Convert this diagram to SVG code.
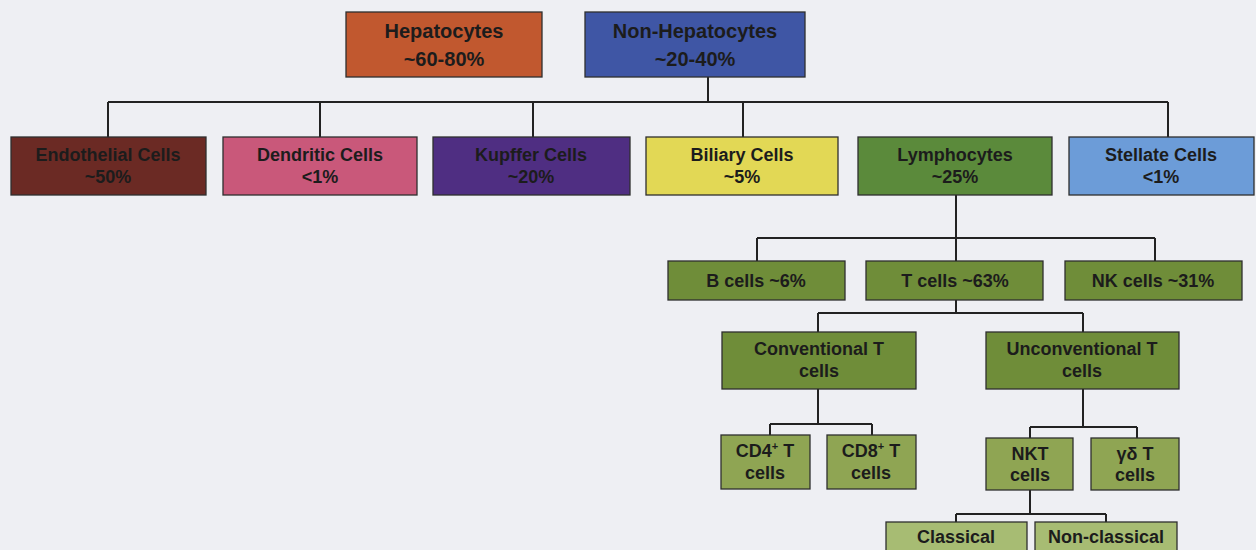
<svg xmlns="http://www.w3.org/2000/svg" width="1256" height="550" viewBox="0 0 1256 550">
<style>
.b{stroke:#2e2e2e;stroke-width:1.3}
.t{font-family:"Liberation Sans",Arial,sans-serif;font-weight:bold;font-size:18px;fill:#1c1c1c;text-anchor:middle}
.tl{font-size:20px}
#connectors path{fill:none;stroke:#222;stroke-width:2}
</style>
<rect width="1256" height="550" fill="#eeeff3"/>
<g id="connectors">
<path d="M708 77V102M108 102H1168M108 102V137M320 102V137M533 102V137M743 102V137M1168 102V137"/>
<path d="M956 195V261M757 238H1155M757 238V261M1155 238V261"/>
<path d="M956 300V313M818 313H1083M818 313V332M1083 313V332"/>
<path d="M818 389V424M770 424H872M770 424V435M872 424V435"/>
<path d="M1083 389V427M1030 427H1137M1030 427V438M1137 427V438"/>
<path d="M1030 490V514M956 514H1106M956 514V522M1106 514V522"/>
</g>
<g id="hepatocytes"><rect class="b" x="346" y="12" width="196" height="65" fill="#c1582f"/><text class="t tl" x="444" y="38">Hepatocytes</text><text class="t tl" x="444" y="66">~60-80%</text></g>
<g id="non-hepatocytes"><rect class="b" x="585" y="12" width="220" height="65" fill="#3f56a5"/><text class="t tl" x="695" y="38">Non-Hepatocytes</text><text class="t tl" x="695" y="66">~20-40%</text></g>
<g id="endothelial"><rect class="b" x="11" y="137" width="195" height="58" fill="#6b2a24"/><text class="t" x="108" y="161">Endothelial Cells</text><text class="t" x="108" y="183">~50%</text></g>
<g id="dendritic"><rect class="b" x="223" y="137" width="194" height="58" fill="#c9587a"/><text class="t" x="320" y="161">Dendritic Cells</text><text class="t" x="320" y="183">&lt;1%</text></g>
<g id="kupffer"><rect class="b" x="433" y="137" width="197" height="58" fill="#4f2e82"/><text class="t" x="531" y="161">Kupffer Cells</text><text class="t" x="531" y="183">~20%</text></g>
<g id="biliary"><rect class="b" x="646" y="137" width="192" height="58" fill="#e2d855"/><text class="t" x="742" y="161">Biliary Cells</text><text class="t" x="742" y="183">~5%</text></g>
<g id="lymphocytes"><rect class="b" x="858" y="137" width="194" height="58" fill="#5b8a3b"/><text class="t" x="955" y="161">Lymphocytes</text><text class="t" x="955" y="183">~25%</text></g>
<g id="stellate"><rect class="b" x="1069" y="137" width="185" height="58" fill="#6c9cd8"/><text class="t" x="1161" y="161">Stellate Cells</text><text class="t" x="1161" y="183">&lt;1%</text></g>
<g id="bcells"><rect class="b" x="668" y="261" width="177" height="39" fill="#6f8d39"/><text class="t" x="756" y="287">B cells ~6%</text></g>
<g id="tcells"><rect class="b" x="866" y="261" width="177" height="39" fill="#6f8d39"/><text class="t" x="955" y="287">T cells ~63%</text></g>
<g id="nkcells"><rect class="b" x="1065" y="261" width="177" height="39" fill="#6f8d39"/><text class="t" x="1153" y="287">NK cells ~31%</text></g>
<g id="conventional"><rect class="b" x="722" y="332" width="194" height="57" fill="#6f8d39"/><text class="t" x="819" y="355">Conventional T</text><text class="t" x="819" y="377">cells</text></g>
<g id="unconventional"><rect class="b" x="986" y="332" width="193" height="57" fill="#6f8d39"/><text class="t" x="1082" y="355">Unconventional T</text><text class="t" x="1082" y="377">cells</text></g>
<g id="cd4"><rect class="b" x="721" y="435" width="89" height="54" fill="#8fa553"/><text class="t" x="765" y="457">CD4<tspan font-size="11" dy="-7">+</tspan><tspan dy="7"> T</tspan></text><text class="t" x="765" y="479">cells</text></g>
<g id="cd8"><rect class="b" x="827" y="435" width="89" height="54" fill="#8fa553"/><text class="t" x="871" y="457">CD8<tspan font-size="11" dy="-7">+</tspan><tspan dy="7"> T</tspan></text><text class="t" x="871" y="479">cells</text></g>
<g id="nkt"><rect class="b" x="986" y="438" width="87" height="52" fill="#8fa553"/><text class="t" x="1030" y="460">NKT</text><text class="t" x="1030" y="481">cells</text></g>
<g id="gammadelta"><rect class="b" x="1091" y="438" width="88" height="52" fill="#8fa553"/><text class="t" x="1135" y="460">γδ T</text><text class="t" x="1135" y="481">cells</text></g>
<g id="classical"><rect class="b" x="886" y="522" width="141" height="40" fill="#a7bc73"/><text class="t" x="956" y="543">Classical</text></g>
<g id="nonclassical"><rect class="b" x="1035" y="522" width="142" height="40" fill="#a7bc73"/><text class="t" x="1106" y="543">Non-classical</text></g>
</svg>
